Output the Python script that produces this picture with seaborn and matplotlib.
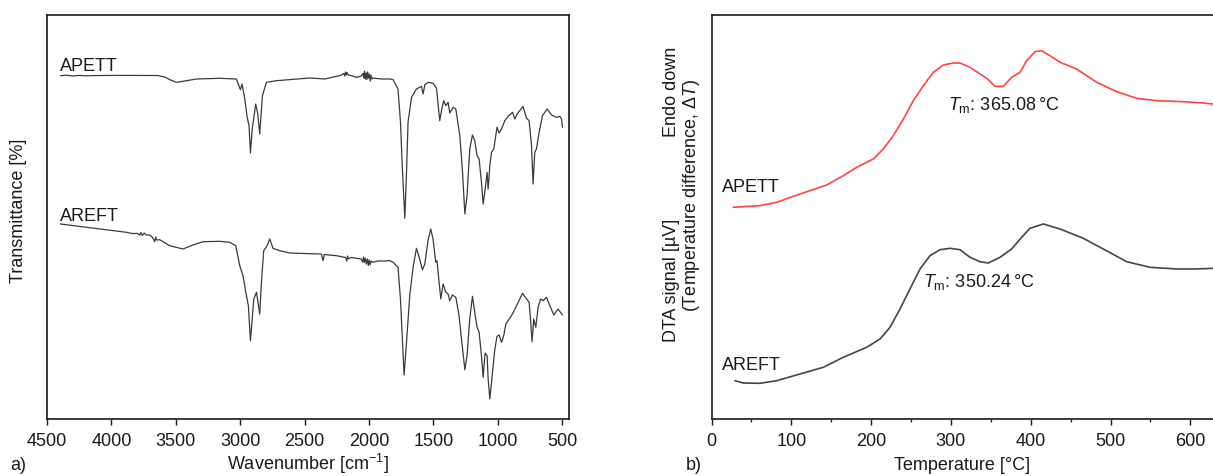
import matplotlib
matplotlib.use("Agg")
import matplotlib.pyplot as plt
import seaborn as sns

# ---------------- FTIR data (panel a) ----------------
ftir_wn_apett = [4396, 4350, 4300, 4250, 4200, 4091, 3900, 3700, 3640, 3586, 3540, 3495, 3430, 3340,
                 3159, 3029, 2998, 2985, 2964, 2946, 2931, 2920, 2906, 2879, 2863, 2848, 2827, 2796,
                 2718, 2459, 2343, 2252, 2220, 2195, 2188, 2182, 2176, 2170, 2160, 2140, 2097, 2060,
                 2045, 2040, 2034, 2028, 2022, 2016, 2010, 2004, 1998, 1990, 1984, 1976, 1968, 1940,
                 1900, 1838, 1812, 1774, 1755, 1739, 1721, 1708, 1696, 1669, 1631, 1592, 1579, 1566,
                 1541, 1502, 1475, 1450, 1434, 1419, 1403, 1385, 1372, 1346, 1325, 1294, 1273, 1255,
                 1238, 1217, 1196, 1178, 1160, 1144, 1126, 1113, 1100, 1082, 1074, 1061, 1048, 1030,
                 1015, 1005, 989, 970, 945, 919, 885, 867, 849, 803, 776, 756, 737, 725, 712, 699,
                 678, 652, 616, 582, 543, 518, 504, 497]
ftir_t_apett = [343.3, 343.8, 343.0, 343.6, 343.2, 343.5, 343.6, 343.5, 343.5, 342, 339, 336.7, 338, 340,
                340.7, 340, 329.3, 335, 320, 302, 293.3, 266, 290, 315, 305, 285, 323.3, 336.7,
                338.3, 341, 340, 342.7, 343.5, 345.5, 343, 347, 344, 346.5, 344, 343.5, 341.7, 343,
                345.5, 341, 348, 340, 346, 339.5, 347, 341, 345, 338, 344, 340, 341, 340.5,
                340, 340, 339.3, 330, 297, 247, 200.7, 247, 297, 321.7, 330, 332.7, 325, 334,
                336.7, 335.7, 330.7, 298.3, 310, 318.3, 313.3, 316.7, 306, 311.7, 310, 283.3, 247, 205,
                223.3, 270, 284, 278.3, 263.3, 260, 236.7, 215, 226.7, 246.7, 230, 253.3, 266.7, 270,
                283.3, 291.7, 286, 290, 298.3, 302.7, 306.7, 300, 305, 312.7, 300.7, 298.3, 273.3, 235, 266.7, 270,
                286.7, 303.3, 310, 304, 301.7, 302.7, 300, 291.7]

ftir_wn_areft = [4396, 3883, 3840, 3800, 3780, 3772, 3760, 3745, 3730, 3702, 3680, 3663, 3656, 3648,
                 3625, 3547, 3444, 3366, 3288, 3159, 3081, 3034, 3003, 2978, 2951, 2936, 2920, 2894,
                 2873, 2848, 2835, 2817, 2791, 2770, 2745, 2692, 2615, 2459, 2369, 2356, 2347, 2252,
                 2180, 2172, 2166, 2160, 2140, 2060, 2048, 2042, 2036, 2028, 2020, 2012, 2004, 1998,
                 1990, 1982, 1968, 1930, 1880, 1838, 1812, 1774, 1755, 1739, 1727, 1708, 1683, 1657,
                 1631, 1610, 1584, 1566, 1541, 1520, 1502, 1481, 1471, 1455, 1442, 1424, 1403, 1385,
                 1372, 1351, 1325, 1300, 1281, 1255, 1238, 1217, 1196, 1178, 1160, 1144, 1126, 1113,
                 1098, 1082, 1074, 1061, 1040, 1022, 1005, 989, 970, 953, 937, 893, 859, 807, 776,
                 756, 745, 733, 720, 704, 686, 667, 647, 621, 595, 564, 531, 512, 497]
ftir_t_areft = [195, 186.7, 185.5, 185.5, 184, 186.5, 183.5, 186, 184, 184, 181.5, 177.3, 182, 179,
                179.3, 173.3, 170, 174, 177.3, 177.7, 176.7, 173.3, 153.3, 143.3, 123.3, 113.3, 78.3, 120,
                126.7, 105, 136.7, 168.3, 173.3, 180, 170.7, 168.3, 166, 165.3, 165, 158.3, 164.5, 163.3,
                161.5, 158, 163, 160, 161.5, 160, 157, 162, 156.5, 161, 155, 160, 153.5, 159,
                154.5, 158, 156.7, 158, 158, 158.3, 156.7, 151.7, 120, 76.7, 44, 76.7, 123.3, 151.7,
                170.7, 161.7, 149.3, 155, 178.3, 190, 180, 156.7, 158.3, 136.7, 120, 135, 126.7, 125,
                118.3, 124, 121.7, 103.3, 80, 49.3, 63.3, 100, 122.7, 106.7, 91.7, 86.7, 63.3, 41.7,
                66, 63.3, 40, 20, 46.7, 70, 82.7, 84, 76.7, 83.3, 95, 103.3, 111.7, 125.7, 120,
                116.7, 100, 77.3, 100, 91.7, 111.7, 120, 118.3, 121.7, 113.3, 104, 110, 106.7, 104]

ftir_ticks = [4500, 4000, 3500, 3000, 2500, 2000, 1500, 1000, 500]

# ---------------- DTA data (panel b) ----------------
dta_temp_apett = [27.3, 60.8, 81.7, 110.9, 144.4, 165.2, 182, 202.8, 215.3, 227.8, 240.4, 252.9,
                  265.4, 277.9, 290.5, 303, 311.4, 323.9, 344.9, 355.3, 365.7, 376.2, 386.6, 395,
                  405.4, 413.8, 424.2, 436.7, 457.6, 482.7, 507.8, 532.8, 557.9, 591.2, 616.3, 628.4]
dta_sig_apett = [211.7, 213.3, 216.7, 225, 234, 243.3, 251.7, 260, 270, 283.3, 300, 318.3,
                 333.3, 346.7, 354, 356, 356, 351.7, 340.7, 332.7, 332.7, 341.7, 346.7, 358.3,
                 367.3, 368.3, 363.3, 356.7, 350, 336.7, 327.3, 320.7, 318.3, 317.3, 316, 315]

dta_temp_areft = [29.4, 39.8, 60.8, 81.7, 110.9, 140.1, 165.2, 194.5, 211.2, 223.7, 236.2, 248.7,
                  261.3, 273.8, 286.3, 298.9, 311.4, 323.9, 336.5, 346.9, 361.5, 376.2, 388.7, 399.1,
                  415.8, 436.7, 465.9, 491, 520.3, 549.5, 583, 608, 628.4]
dta_sig_areft = [38.3, 36, 35.7, 38.3, 45, 51.7, 61.7, 71.7, 80, 91.7, 110, 130,
                 150, 163.3, 169.3, 170.7, 169.3, 161.7, 157.3, 156, 161.7, 170, 181.7, 190.7,
                 195, 190, 180.7, 170, 157.3, 151.7, 150, 150, 150.7]

dta_ticks = [0, 100, 200, 300, 400, 500, 600]
dta_minor = [50, 150, 250, 350, 450, 550]

# ---------------- style ----------------
sns.set_theme(style="ticks")
plt.rcParams['font.family'] = ['Liberation Sans', 'DejaVu Sans']
plt.rcParams['mathtext.fontset'] = 'custom'
plt.rcParams['mathtext.rm'] = 'Liberation Sans'
plt.rcParams['mathtext.it'] = 'Liberation Sans:italic'
plt.rcParams['mathtext.bf'] = 'Liberation Sans:bold'

W, H = 1213, 477
fig = plt.figure(figsize=(W / 100, H / 100), dpi=100)

FS = 13
TXT = '#1a1a1a'
ax1 = fig.add_axes([47 / W, 1 - 419.5 / H, (568.5 - 47) / W, (419.5 - 15.5) / H])
ax2 = fig.add_axes([711.5 / W, 1 - 419.5 / H, (W - 711.5) / W, (419.5 - 15.5) / H])

ftir_gray = '#3a3a3a'
sns.lineplot(x=ftir_wn_apett, y=ftir_t_apett, ax=ax1, color=ftir_gray, lw=0.9, sort=False, estimator=None)
sns.lineplot(x=ftir_wn_areft, y=ftir_t_areft, ax=ax1, color=ftir_gray, lw=0.9, sort=False, estimator=None)

sns.lineplot(x=dta_temp_apett, y=dta_sig_apett, ax=ax2, color='#ff4545', lw=1.2, sort=False, estimator=None)
sns.lineplot(x=dta_temp_areft, y=dta_sig_areft, ax=ax2, color='#454545', lw=1.2, sort=False, estimator=None)

for ax in (ax1, ax2):
    ax.set_ylim(0.5, 404.5)
    ax.set_yticks([])
    for s in ax.spines.values():
        s.set_linewidth(1.2)
        s.set_color(TXT)
    ax.tick_params(axis='x', which='major', direction='out', length=4, width=1.0,
                   labelsize=FS, pad=6, colors=TXT, labelcolor=TXT)
    ax.tick_params(axis='x', which='minor', direction='out', length=2.5, width=0.9, colors=TXT)

ax1.set_xlim(4500, 450)
ax1.set_xticks(ftir_ticks)
ax1.set_xticklabels([str(t) for t in ftir_ticks])

ax2.set_xlim(0, (W - 711.5) / 0.798)
ax2.set_xticks(dta_ticks)
ax2.set_xticks(dta_minor, minor=True)
ax2.set_xticklabels([str(t) for t in dta_ticks])
ax2.spines['right'].set_visible(False)

# axis labels
ax1.set_xlabel(r"Wavenumber [cm$^{\mathregular{-1}}$]", fontsize=FS, color=TXT)
ax1.xaxis.set_label_coords(307.5 / W, 1 - 470 / H, transform=fig.transFigure)
ax1.xaxis.label.set_va('baseline')
ax2.set_xlabel("Temperature [°C]", fontsize=FS, color=TXT)
ax2.xaxis.set_label_coords(962 / W, 1 - 470 / H, transform=fig.transFigure)
ax2.xaxis.label.set_va('baseline')

ax1.set_ylabel("Transmittance [%]", fontsize=FS, color=TXT)
ax1.yaxis.set_label_coords(19 / W, 1 - 211 / H, transform=fig.transFigure)
ax1.yaxis.label.set_va('center')
ax2.set_ylabel("")

fig.text(672 / W, 1 - 92 / H, "Endo down", rotation=90, ha='center', va='center', fontsize=FS, color=TXT)
fig.text(672 / W, 1 - 280 / H, "DTA signal [µV]", rotation=90, ha='center', va='center', fontsize=FS, color=TXT)
fig.text(691 / W, 1 - 195 / H, r"(Temperature difference, $\Delta\mathit{T}$)", rotation=90,
         ha='center', va='center', fontsize=FS, color=TXT)

fig.text(10 / W, 1 - 470 / H, "a)", ha='left', va='baseline', fontsize=FS, color=TXT)
fig.text(686 / W, 1 - 470 / H, "b)", ha='left', va='baseline', fontsize=FS, color=TXT)

# curve labels
ax1.text(4400, 349.3, "APETT", ha='left', va='baseline', fontsize=FS, color=TXT)
ax1.text(4400, 199, "AREFT", ha='left', va='baseline', fontsize=FS, color=TXT)
ax2.text(13.2, 228.3, "APETT", ha='left', va='baseline', fontsize=FS, color=TXT)
ax2.text(13.2, 50, "AREFT", ha='left', va='baseline', fontsize=FS, color=TXT)
ax2.text(296.4, 310, "$T_{\\mathrm{m}}$: 365.08\u2009°C", ha='left', va='baseline', fontsize=FS, color=TXT)
ax2.text(264.7, 133.3, "$T_{\\mathrm{m}}$: 350.24\u2009°C", ha='left', va='baseline', fontsize=FS, color=TXT)

fig.savefig("out.png", dpi=100)
